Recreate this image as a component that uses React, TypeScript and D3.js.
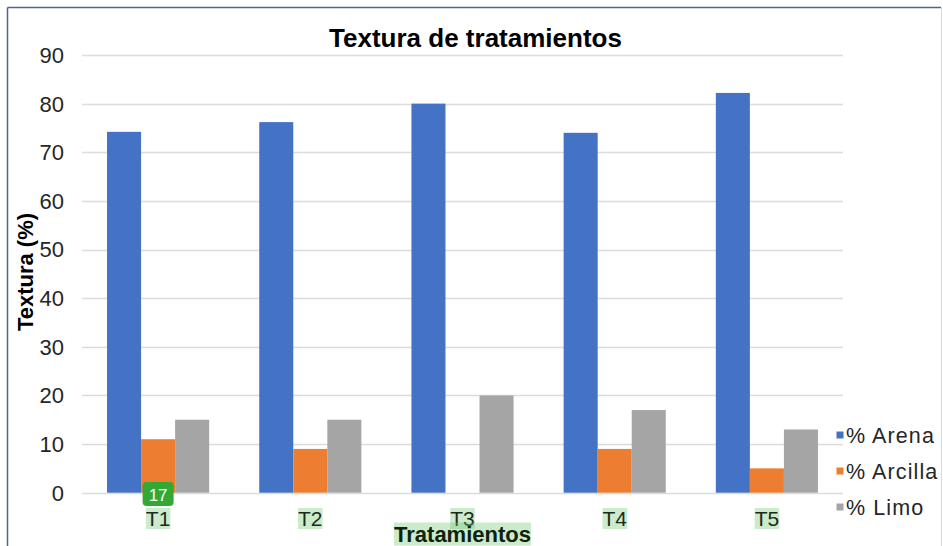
import React, { useEffect, useRef } from "react";
import * as d3 from "d3";

// Soil texture per treatment (percent)
const categories = ["T1", "T2", "T3", "T4", "T5"];
const seriesNames = ["% Arena", "% Arcilla", "% Limo"];
const arena = [74.2, 76.2, 80, 74, 82.2];
const arcilla = [11, 9, 0, 9, 5];
const limo = [15, 15, 20, 17, 13];
const yTicks = [0, 10, 20, 30, 40, 50, 60, 70, 80, 90];
const badgeText = "17";

const colors = ["#4472c4", "#ed7d31", "#a5a5a5"];
const FONT = "'Liberation Sans', Arial, Helvetica, sans-serif";

export default function App() {
  const ref = useRef<SVGSVGElement | null>(null);

  useEffect(() => {
    const svg = d3.select(ref.current);
    svg.selectAll("*").remove();

    const H = 546;
    const left = 82;
    const right = 843;
    const top = 55;
    const bottom = 492.7;

    // frame
    svg.append("line").attr("x1", 7.5).attr("y1", 7.5).attr("x2", 941).attr("y2", 7.5)
      .attr("stroke", "#52638f").attr("stroke-width", 1.5);
    svg.append("line").attr("x1", 7.5).attr("y1", 7.5).attr("x2", 7.5).attr("y2", H)
      .attr("stroke", "#52638f").attr("stroke-width", 1.5);
    svg.append("line").attr("x1", 941.5).attr("y1", 7.5).attr("x2", 941.5).attr("y2", H)
      .attr("stroke", "#d5d9e3").attr("stroke-width", 1);

    const y = d3.scaleLinear().domain([0, 90]).range([bottom, top]);
    const x = d3.scaleBand<string>().domain(categories).range([left, right])
      .paddingInner(0.329).paddingOuter(0.1645);
    const xs = d3.scaleBand<string>().domain(seriesNames).range([0, x.bandwidth()]).padding(0);

    // gridlines
    svg.append("g").selectAll("line").data(yTicks).join("line")
      .attr("x1", left).attr("x2", right)
      .attr("y1", (d) => Math.round(y(d)) + 0.5).attr("y2", (d) => Math.round(y(d)) + 0.5)
      .attr("stroke", "#dcdcdc").attr("stroke-width", 1.3);

    // y tick labels
    svg.append("g").selectAll("text").data(yTicks).join("text")
      .attr("x", 64).attr("y", (d) => y(d)).attr("dy", "0.36em")
      .attr("text-anchor", "end").attr("font-family", FONT).attr("font-size", 22)
      .attr("fill", "#262626").text((d) => String(d));

    // bars
    const series = [arena, arcilla, limo];
    series.forEach((vals, si) => {
      svg.append("g").selectAll("rect").data(categories).join("rect")
        .attr("x", (c) => (x(c) as number) + (xs(seriesNames[si]) as number))
        .attr("width", xs.bandwidth())
        .attr("y", (c, i) => y(vals[i]))
        .attr("height", (c, i) => y(0) - y(vals[i]))
        .attr("fill", colors[si]);
    });

    // text with a translucent highlight behind it
    const highlight = (g: any, tx: number, ty: number, label: string, size: number, weight: string, color: string) => {
      const grp = g.append("g");
      const rect = grp.append("rect").attr("fill", "rgba(110,200,110,0.36)");
      const t = grp.append("text").attr("x", tx).attr("y", ty).attr("text-anchor", "middle")
        .attr("font-family", FONT).attr("font-size", size).attr("font-weight", weight)
        .attr("fill", color).text(label);
      const bb = (t.node() as SVGTextElement).getBBox();
      rect.attr("x", bb.x).attr("y", bb.y + 1)
        .attr("width", bb.width).attr("height", bb.height - 2);
    };

    // x tick labels
    const xl = svg.append("g");
    categories.forEach((c) => {
      highlight(xl, (x(c) as number) + x.bandwidth() / 2, 526, c, 21, "normal", "#1c2a1c");
    });

    // axis titles
    highlight(svg, (left + right) / 2, 541.5, "Tratamientos", 22, "bold", "#0e220e");

    svg.append("text").attr("transform", "translate(33,272) rotate(-90)")
      .attr("text-anchor", "middle").attr("font-family", FONT).attr("font-size", 22)
      .attr("font-weight", "bold").attr("fill", "#000").text("Textura (%)");

    // chart title
    svg.append("text").attr("x", 475.5).attr("y", 46.5).attr("text-anchor", "middle")
      .attr("font-family", FONT).attr("font-size", 26).attr("font-weight", "bold")
      .attr("fill", "#000").text("Textura de tratamientos");

    // badge under the first treatment
    const bx = (x("T1") as number) + (xs("% Arcilla") as number) + xs.bandwidth() / 2;
    svg.append("rect").attr("x", bx - 15.5).attr("y", 482).attr("width", 31).attr("height", 24)
      .attr("rx", 4).attr("fill", "#33a833");
    svg.append("text").attr("x", bx).attr("y", 500.5).attr("text-anchor", "middle")
      .attr("font-family", FONT).attr("font-size", 17).attr("fill", "#ffffff").text(badgeText);

    // legend
    const lg = svg.append("g");
    seriesNames.forEach((s, i) => {
      const ly = 443 + i * 36;
      lg.append("rect").attr("x", 836.5).attr("y", ly - 11.5).attr("width", 7).attr("height", 7)
        .attr("fill", colors[i]);
      lg.append("text").attr("x", 846).attr("y", ly).attr("font-family", FONT)
        .attr("font-size", 21.5).attr("letter-spacing", 1.1).attr("fill", "#262626").text(s);
    });
  }, []);

  return (
    <svg
      ref={ref}
      width={943}
      height={546}
      style={{ position: "absolute", left: 0, top: 0, background: "#fff" }}
    />
  );
}
